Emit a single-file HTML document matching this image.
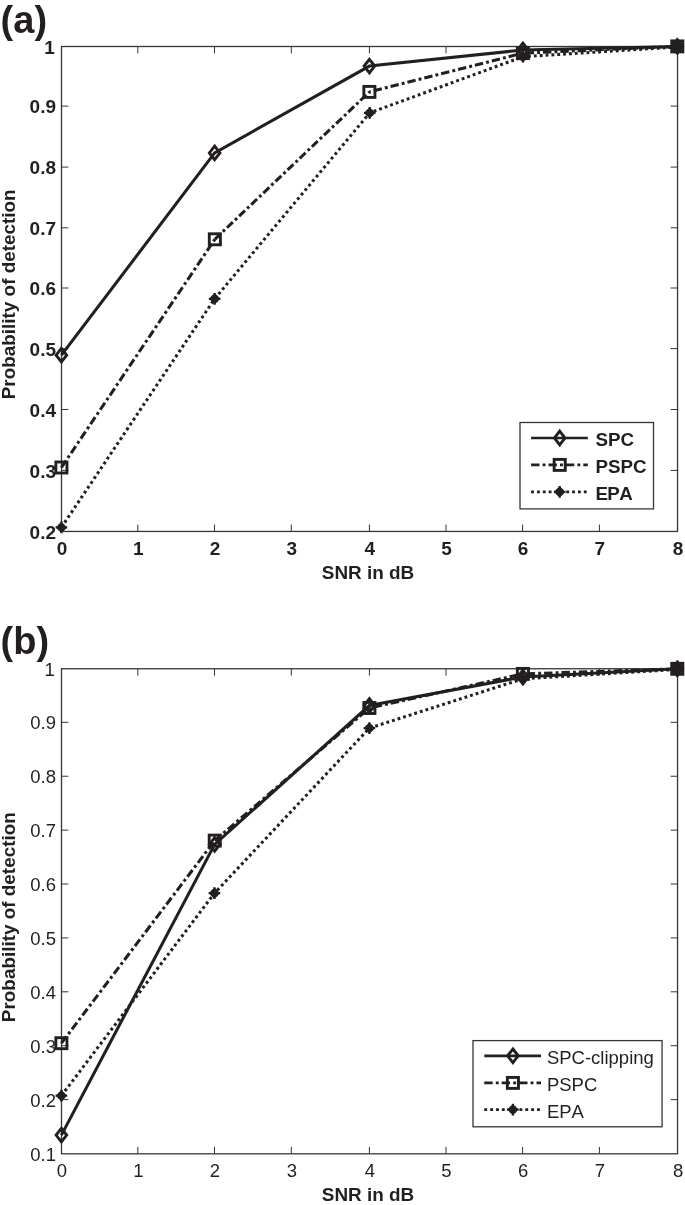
<!DOCTYPE html>
<html lang="en">
<head>
<meta charset="utf-8">
<title>Probability of detection vs SNR</title>
<style>
html,body{margin:0;padding:0;background:#fff;}
body{width:685px;height:1205px;overflow:hidden;}
svg{display:block;font-family:"Liberation Sans",Arial,Helvetica,sans-serif;fill:#231f20;font-kerning:none;}
</style>
</head>
<body>
<svg width="685" height="1205" viewBox="0 0 685 1205">
<rect x="0" y="0" width="685" height="1205" fill="#fff"/>
<text x="0.6" y="33.3" font-size="38" font-weight="bold">(a)</text>
<rect x="61.5" y="46.5" width="616.05" height="484.95" fill="none" stroke="#383435" stroke-width="1.3"/>
<path d="M137.8 531.45v-6.9M137.8 46.5v6.9M214.5 531.45v-6.9M214.5 46.5v6.9M291.3 531.45v-6.9M291.3 46.5v6.9M369.4 531.45v-6.9M369.4 46.5v6.9M446 531.45v-6.9M446 46.5v6.9M522.6 531.45v-6.9M522.6 46.5v6.9M599.4 531.45v-6.9M599.4 46.5v6.9M61.5 470.4h6.9M677.55 470.4h-6.9M61.5 409.5h6.9M677.55 409.5h-6.9M61.5 348.6h6.9M677.55 348.6h-6.9M61.5 288h6.9M677.55 288h-6.9M61.5 227.8h6.9M677.55 227.8h-6.9M61.5 167.1h6.9M677.55 167.1h-6.9M61.5 106.1h6.9M677.55 106.1h-6.9" fill="none" stroke="#383435" stroke-width="1"/>
<g font-size="19" font-weight="bold">
<text x="62" y="554.6" text-anchor="middle">0</text>
<text x="138.3" y="554.6" text-anchor="middle">1</text>
<text x="215" y="554.6" text-anchor="middle">2</text>
<text x="291.8" y="554.6" text-anchor="middle">3</text>
<text x="369.9" y="554.6" text-anchor="middle">4</text>
<text x="446.5" y="554.6" text-anchor="middle">5</text>
<text x="523.1" y="554.6" text-anchor="middle">6</text>
<text x="599.9" y="554.6" text-anchor="middle">7</text>
<text x="678.05" y="554.6" text-anchor="middle">8</text>
<text x="56.0" y="538.55" text-anchor="end">0.2</text>
<text x="56.0" y="477.5" text-anchor="end">0.3</text>
<text x="56.0" y="416.6" text-anchor="end">0.4</text>
<text x="56.0" y="355.7" text-anchor="end">0.5</text>
<text x="56.0" y="295.1" text-anchor="end">0.6</text>
<text x="56.0" y="234.9" text-anchor="end">0.7</text>
<text x="56.0" y="174.2" text-anchor="end">0.8</text>
<text x="56.0" y="113.2" text-anchor="end">0.9</text>
<text x="54.8" y="53.6" text-anchor="end">1</text>
</g>
<text x="368" y="578.6" font-size="18.9" font-weight="bold" text-anchor="middle">SNR in dB</text>
<text transform="translate(15.1 294.3) rotate(-90)" font-size="18.9" font-weight="bold" text-anchor="middle">Probability of detection</text>
<polyline points="61.4,355.2 214.65,152.9 369.4,66.1 522.9,50 677.3,46.4" fill="none" stroke="#231f20" stroke-width="3.05"/>
<polyline points="61.4,467.5 214.85,239.3" fill="none" stroke="#231f20" stroke-width="3.05" stroke-dasharray="8.4 3.1 2.9 3"/>
<polyline points="214.85,239.3 369.4,91.9" fill="none" stroke="#231f20" stroke-width="3.05" stroke-dasharray="8.09 2.99 2.79 2.89"/>
<polyline points="369.4,91.9 522.9,53.1 677.3,46.4" fill="none" stroke="#231f20" stroke-width="3.05" stroke-dasharray="8.4 3.1 2.9 3" stroke-dashoffset="12.95"/>
<polyline points="61.4,527.4 214.65,298.8 369.7,112.9 522.9,56.7 677.3,47" fill="none" stroke="#231f20" stroke-width="3.05" stroke-dasharray="2.85 3.01"/>
<path transform="translate(61.4 355.2)" d="M0 -6.8L5.3 0L0 6.8L-5.3 0Z" fill="none" stroke="#231f20" stroke-width="2.9" stroke-linejoin="miter"/>
<path transform="translate(214.65 152.9)" d="M0 -6.8L5.3 0L0 6.8L-5.3 0Z" fill="none" stroke="#231f20" stroke-width="2.9" stroke-linejoin="miter"/>
<path transform="translate(369.4 66.1)" d="M0 -6.8L5.3 0L0 6.8L-5.3 0Z" fill="none" stroke="#231f20" stroke-width="2.9" stroke-linejoin="miter"/>
<path transform="translate(522.9 50)" d="M0 -6.8L5.3 0L0 6.8L-5.3 0Z" fill="none" stroke="#231f20" stroke-width="2.9" stroke-linejoin="miter"/>
<path transform="translate(677.3 46.4)" d="M0 -6.8L5.3 0L0 6.8L-5.3 0Z" fill="none" stroke="#231f20" stroke-width="2.9" stroke-linejoin="miter"/>
<rect transform="translate(61.4 467.5)" x="-5.55" y="-5.5" width="11.1" height="11" fill="none" stroke="#231f20" stroke-width="2.9"/>
<rect transform="translate(214.85 239.3)" x="-5.55" y="-5.5" width="11.1" height="11" fill="none" stroke="#231f20" stroke-width="2.9"/>
<rect transform="translate(369.4 91.9)" x="-5.55" y="-5.5" width="11.1" height="11" fill="none" stroke="#231f20" stroke-width="2.9"/>
<rect transform="translate(522.9 53.1)" x="-5.55" y="-5.5" width="11.1" height="11" fill="none" stroke="#231f20" stroke-width="2.9"/>
<rect transform="translate(677.3 46.4)" x="-5.55" y="-5.5" width="11.1" height="11" fill="none" stroke="#231f20" stroke-width="2.9"/>
<g transform="translate(61.4 527.4)"><path d="M0 -5.7L5.6 0L0 5.7L-5.6 0Z" fill="#231f20" stroke="none"/><path d="M-5.8 0H5.8M0 -5.9V5.9M-2.9 -2.9L2.9 2.9M-2.9 2.9L2.9 -2.9" fill="none" stroke="#231f20" stroke-width="2.3"/></g>
<g transform="translate(214.65 298.8)"><path d="M0 -5.7L5.6 0L0 5.7L-5.6 0Z" fill="#231f20" stroke="none"/><path d="M-5.8 0H5.8M0 -5.9V5.9M-2.9 -2.9L2.9 2.9M-2.9 2.9L2.9 -2.9" fill="none" stroke="#231f20" stroke-width="2.3"/></g>
<g transform="translate(369.7 112.9)"><path d="M0 -5.7L5.6 0L0 5.7L-5.6 0Z" fill="#231f20" stroke="none"/><path d="M-5.8 0H5.8M0 -5.9V5.9M-2.9 -2.9L2.9 2.9M-2.9 2.9L2.9 -2.9" fill="none" stroke="#231f20" stroke-width="2.3"/></g>
<g transform="translate(522.9 56.7)"><path d="M0 -5.7L5.6 0L0 5.7L-5.6 0Z" fill="#231f20" stroke="none"/><path d="M-5.8 0H5.8M0 -5.9V5.9M-2.9 -2.9L2.9 2.9M-2.9 2.9L2.9 -2.9" fill="none" stroke="#231f20" stroke-width="2.3"/></g>
<g transform="translate(677.3 47)"><path d="M0 -5.7L5.6 0L0 5.7L-5.6 0Z" fill="#231f20" stroke="none"/><path d="M-5.8 0H5.8M0 -5.9V5.9M-2.9 -2.9L2.9 2.9M-2.9 2.9L2.9 -2.9" fill="none" stroke="#231f20" stroke-width="2.3"/></g>
<rect x="520" y="422.5" width="133.5" height="86.4" fill="#fff" stroke="#383435" stroke-width="1.3"/>
<path d="M531.1 438H587.8" fill="none" stroke="#231f20" stroke-width="2.7"/>
<path transform="translate(559.7 438)" d="M0 -6.8L5.3 0L0 6.8L-5.3 0Z" fill="none" stroke="#231f20" stroke-width="2.9" stroke-linejoin="miter"/>
<text x="595.5" y="446.3" font-size="18.8" font-weight="bold">SPC</text>
<path d="M531.1 464.9H587.8" fill="none" stroke="#231f20" stroke-width="2.7" stroke-dasharray="8.4 3.1 2.9 3"/>
<rect transform="translate(559.7 464.9)" x="-5.55" y="-5.5" width="11.1" height="11" fill="none" stroke="#231f20" stroke-width="2.9"/>
<text x="595.5" y="473.2" font-size="18.8" font-weight="bold">PSPC</text>
<path d="M531.1 491.9H587.8" fill="none" stroke="#231f20" stroke-width="2.7" stroke-dasharray="2.85 3.01"/>
<g transform="translate(559.7 491.9)"><path d="M0 -5.7L5.6 0L0 5.7L-5.6 0Z" fill="#231f20" stroke="none"/><path d="M-5.8 0H5.8M0 -5.9V5.9M-2.9 -2.9L2.9 2.9M-2.9 2.9L2.9 -2.9" fill="none" stroke="#231f20" stroke-width="2.3"/></g>
<text x="595.5" y="500.2" font-size="18.8" font-weight="bold" letter-spacing="-0.7">EPA</text>
<text x="0.6" y="653.8" font-size="38" font-weight="bold">(b)</text>
<rect x="61.5" y="668.75" width="616.05" height="485.05" fill="none" stroke="#383435" stroke-width="1.3"/>
<path d="M137.8 1153.8v-6.9M137.8 668.75v6.9M214.5 1153.8v-6.9M214.5 668.75v6.9M291.3 1153.8v-6.9M291.3 668.75v6.9M369.4 1153.8v-6.9M369.4 668.75v6.9M446 1153.8v-6.9M446 668.75v6.9M522.6 1153.8v-6.9M522.6 668.75v6.9M599.4 1153.8v-6.9M599.4 668.75v6.9M61.5 1099.61h6.9M677.55 1099.61h-6.9M61.5 1045.71h6.9M677.55 1045.71h-6.9M61.5 991.82h6.9M677.55 991.82h-6.9M61.5 937.92h6.9M677.55 937.92h-6.9M61.5 884.03h6.9M677.55 884.03h-6.9M61.5 830.13h6.9M677.55 830.13h-6.9M61.5 776.24h6.9M677.55 776.24h-6.9M61.5 722.34h6.9M677.55 722.34h-6.9" fill="none" stroke="#383435" stroke-width="1"/>
<g font-size="18.5" font-weight="normal">
<text x="62" y="1176.6" text-anchor="middle">0</text>
<text x="138.3" y="1176.6" text-anchor="middle">1</text>
<text x="215" y="1176.6" text-anchor="middle">2</text>
<text x="291.8" y="1176.6" text-anchor="middle">3</text>
<text x="369.9" y="1176.6" text-anchor="middle">4</text>
<text x="446.5" y="1176.6" text-anchor="middle">5</text>
<text x="523.1" y="1176.6" text-anchor="middle">6</text>
<text x="599.9" y="1176.6" text-anchor="middle">7</text>
<text x="678.05" y="1176.6" text-anchor="middle">8</text>
<text x="56.0" y="1160.8" text-anchor="end">0.1</text>
<text x="56.0" y="1106.61" text-anchor="end">0.2</text>
<text x="56.0" y="1052.71" text-anchor="end">0.3</text>
<text x="56.0" y="998.82" text-anchor="end">0.4</text>
<text x="56.0" y="944.92" text-anchor="end">0.5</text>
<text x="56.0" y="891.03" text-anchor="end">0.6</text>
<text x="56.0" y="837.13" text-anchor="end">0.7</text>
<text x="56.0" y="783.24" text-anchor="end">0.8</text>
<text x="56.0" y="729.34" text-anchor="end">0.9</text>
<text x="54.8" y="675.75" text-anchor="end">1</text>
</g>
<text x="368" y="1200.7" font-size="18.9" font-weight="bold" text-anchor="middle">SNR in dB</text>
<text transform="translate(15.1 917.2) rotate(-90)" font-size="18.9" font-weight="bold" text-anchor="middle">Probability of detection</text>
<polyline points="61.4,1135.1 214.65,844.4 369.4,705.5 522.9,677 677.3,668.8" fill="none" stroke="#231f20" stroke-width="3.05"/>
<polyline points="61.4,1043.2 214.75,840.6" fill="none" stroke="#231f20" stroke-width="3.05" stroke-dasharray="8.4 3.1 2.9 3"/>
<polyline points="214.75,840.6 369.4,708" fill="none" stroke="#231f20" stroke-width="3.05" stroke-dasharray="8.37 3.09 2.89 2.99"/>
<polyline points="369.4,708 522.9,673.9 677.3,668.8" fill="none" stroke="#231f20" stroke-width="3.05" stroke-dasharray="8.4 3.1 2.9 3" stroke-dashoffset="12.95"/>
<polyline points="61.4,1095.7 214.45,893.2 369.4,728.1 522.9,678.8 677.3,669.4" fill="none" stroke="#231f20" stroke-width="3.05" stroke-dasharray="2.85 3.01"/>
<path transform="translate(61.4 1135.1)" d="M0 -6.8L5.3 0L0 6.8L-5.3 0Z" fill="none" stroke="#231f20" stroke-width="2.9" stroke-linejoin="miter"/>
<path transform="translate(214.65 844.4)" d="M0 -6.8L5.3 0L0 6.8L-5.3 0Z" fill="none" stroke="#231f20" stroke-width="2.9" stroke-linejoin="miter"/>
<path transform="translate(369.4 705.5)" d="M0 -6.8L5.3 0L0 6.8L-5.3 0Z" fill="none" stroke="#231f20" stroke-width="2.9" stroke-linejoin="miter"/>
<path transform="translate(522.9 677)" d="M0 -6.8L5.3 0L0 6.8L-5.3 0Z" fill="none" stroke="#231f20" stroke-width="2.9" stroke-linejoin="miter"/>
<path transform="translate(677.3 668.8)" d="M0 -6.8L5.3 0L0 6.8L-5.3 0Z" fill="none" stroke="#231f20" stroke-width="2.9" stroke-linejoin="miter"/>
<rect transform="translate(61.4 1043.2)" x="-5.55" y="-5.5" width="11.1" height="11" fill="none" stroke="#231f20" stroke-width="2.9"/>
<rect transform="translate(214.75 840.6)" x="-5.55" y="-5.5" width="11.1" height="11" fill="none" stroke="#231f20" stroke-width="2.9"/>
<rect transform="translate(369.4 708)" x="-5.55" y="-5.5" width="11.1" height="11" fill="none" stroke="#231f20" stroke-width="2.9"/>
<rect transform="translate(522.9 673.9)" x="-5.55" y="-5.5" width="11.1" height="11" fill="none" stroke="#231f20" stroke-width="2.9"/>
<rect transform="translate(677.3 668.8)" x="-5.55" y="-5.5" width="11.1" height="11" fill="none" stroke="#231f20" stroke-width="2.9"/>
<g transform="translate(61.4 1095.7)"><path d="M0 -5.7L5.6 0L0 5.7L-5.6 0Z" fill="#231f20" stroke="none"/><path d="M-5.8 0H5.8M0 -5.9V5.9M-2.9 -2.9L2.9 2.9M-2.9 2.9L2.9 -2.9" fill="none" stroke="#231f20" stroke-width="2.3"/></g>
<g transform="translate(214.45 893.2)"><path d="M0 -5.7L5.6 0L0 5.7L-5.6 0Z" fill="#231f20" stroke="none"/><path d="M-5.8 0H5.8M0 -5.9V5.9M-2.9 -2.9L2.9 2.9M-2.9 2.9L2.9 -2.9" fill="none" stroke="#231f20" stroke-width="2.3"/></g>
<g transform="translate(369.4 728.1)"><path d="M0 -5.7L5.6 0L0 5.7L-5.6 0Z" fill="#231f20" stroke="none"/><path d="M-5.8 0H5.8M0 -5.9V5.9M-2.9 -2.9L2.9 2.9M-2.9 2.9L2.9 -2.9" fill="none" stroke="#231f20" stroke-width="2.3"/></g>
<g transform="translate(522.9 678.8)"><path d="M0 -5.7L5.6 0L0 5.7L-5.6 0Z" fill="#231f20" stroke="none"/><path d="M-5.8 0H5.8M0 -5.9V5.9M-2.9 -2.9L2.9 2.9M-2.9 2.9L2.9 -2.9" fill="none" stroke="#231f20" stroke-width="2.3"/></g>
<g transform="translate(677.3 669.4)"><path d="M0 -5.7L5.6 0L0 5.7L-5.6 0Z" fill="#231f20" stroke="none"/><path d="M-5.8 0H5.8M0 -5.9V5.9M-2.9 -2.9L2.9 2.9M-2.9 2.9L2.9 -2.9" fill="none" stroke="#231f20" stroke-width="2.3"/></g>
<rect x="473" y="1040.6" width="189.05" height="86.2" fill="#fff" stroke="#383435" stroke-width="1.3"/>
<path d="M484.3 1055.8H541" fill="none" stroke="#231f20" stroke-width="2.7"/>
<path transform="translate(512.9 1055.8)" d="M0 -6.8L5.3 0L0 6.8L-5.3 0Z" fill="none" stroke="#231f20" stroke-width="2.9" stroke-linejoin="miter"/>
<text x="546.9" y="1064.1" font-size="18.5" font-weight="normal">SPC-clipping</text>
<path d="M484.3 1082.9H541" fill="none" stroke="#231f20" stroke-width="2.7" stroke-dasharray="8.4 3.1 2.9 3"/>
<rect transform="translate(512.9 1082.9)" x="-5.55" y="-5.5" width="11.1" height="11" fill="none" stroke="#231f20" stroke-width="2.9"/>
<text x="546.9" y="1091.2" font-size="18.5" font-weight="normal">PSPC</text>
<path d="M484.3 1109.6H541" fill="none" stroke="#231f20" stroke-width="2.7" stroke-dasharray="2.85 3.01"/>
<g transform="translate(512.9 1109.6)"><path d="M0 -5.7L5.6 0L0 5.7L-5.6 0Z" fill="#231f20" stroke="none"/><path d="M-5.8 0H5.8M0 -5.9V5.9M-2.9 -2.9L2.9 2.9M-2.9 2.9L2.9 -2.9" fill="none" stroke="#231f20" stroke-width="2.3"/></g>
<text x="546.9" y="1117.9" font-size="18.5" font-weight="normal">EPA</text>
</svg>
</body>
</html>
